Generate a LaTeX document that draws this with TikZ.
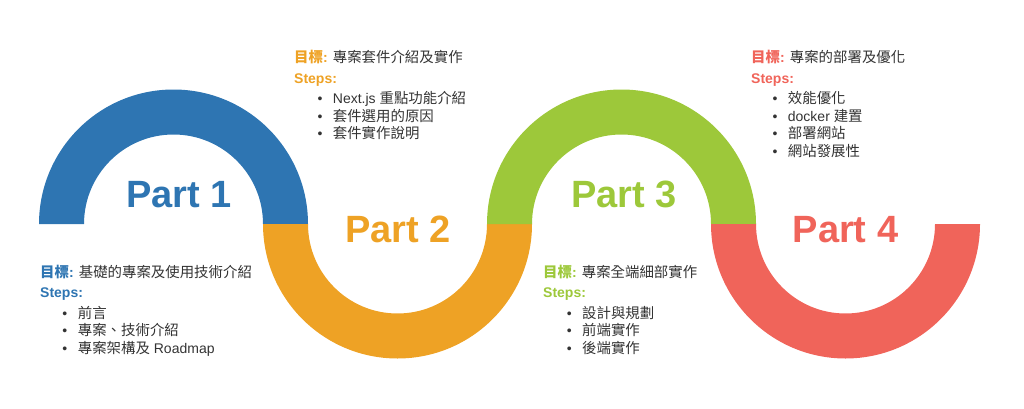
\documentclass[tikz,border=0pt]{standalone}
\usepackage{fontspec}
\setmainfont{Liberation Sans}
\newfontfamily\cjkfont[Scale=1.03]{Noto Sans CJK TC}
\newcommand\zhtxt[1]{{\cjkfont #1}}
\definecolor{pblue}{HTML}{2E75B2}
\definecolor{porange}{HTML}{EEA225}
\definecolor{pgreen}{HTML}{9DC83A}
\definecolor{pred}{HTML}{F0645A}
\definecolor{txtgray}{HTML}{333333}
\begin{document}
\begin{tikzpicture}[x=1pt,y=1pt,
  partlbl/.style={font=\fontsize{38}{40}\selectfont\bfseries, anchor=base, inner sep=0},
  txtline/.style={font=\fontsize{14}{16}\selectfont, text=txtgray, anchor=base west, inner sep=0},
  stepsline/.style={txtline, font=\fontsize{14}{16}\selectfont\bfseries},
  itemline/.style={txtline, execute at begin node={\llap{\textbullet\hspace{10.5pt}}}},
  topring/.style={},
]
\useasboundingbox (0,0) rectangle (1024,408);
% rings
\fill[pblue] (39,184) arc[start angle=180,end angle=0,radius=134.5] -- (263,184) arc[start angle=0,end angle=180,radius=89.5] -- cycle;
\fill[porange] (263,184) arc[start angle=180,end angle=360,radius=134.5] -- (487,184) arc[start angle=0,end angle=-180,radius=89.5] -- cycle;
\fill[pgreen] (487,184) arc[start angle=180,end angle=0,radius=134.5] -- (711,184) arc[start angle=0,end angle=180,radius=89.5] -- cycle;
\fill[pred] (711,184) arc[start angle=180,end angle=360,radius=134.5] -- (935,184) arc[start angle=0,end angle=-180,radius=89.5] -- cycle;
% part labels
\node[partlbl, text=pblue] (p1) at (179,201) {Part 1};
\node[partlbl, text=porange] (p2) at (398,166) {Part 2};
\node[partlbl, text=pgreen] (p3) at (624,201) {Part 3};
\node[partlbl, text=pred] (p4) at (845.5,166) {Part 4};
% block 1
\node[txtline] (g1) at (40,131) {\textcolor{pblue}{\bfseries\zhtxt{目標}:} \zhtxt{基礎的專案及使用技術介紹}};
\node[stepsline, text=pblue] (s1) at (40,110.5) {Steps:};
\node[itemline] (i11) at (77.7,90) {\zhtxt{前言}};
\node[itemline] (i12) at (77.7,72.5) {\zhtxt{專案、技術介紹}};
\node[itemline] (i13) at (77.7,55) {\zhtxt{專案架構及} Roadmap};
% block 2
\node[txtline] (g2) at (294,345) {\textcolor{porange}{\bfseries\zhtxt{目標}:} \zhtxt{專案套件介紹及實作}};
\node[stepsline, text=porange] (s2) at (294,325) {Steps:};
\node[itemline] (i21) at (332.7,304.5) {Next.js \zhtxt{重點功能介紹}};
\node[itemline] (i22) at (332.7,287) {\zhtxt{套件選用的原因}};
\node[itemline] (i23) at (332.7,269.5) {\zhtxt{套件實作說明}};
% block 3
\node[txtline] (g3) at (543,131) {\textcolor{pgreen}{\bfseries\zhtxt{目標}:} \zhtxt{專案全端細部實作}};
\node[stepsline, text=pgreen] (s3) at (543,110.5) {Steps:};
\node[itemline] (i31) at (582,90) {\zhtxt{設計與規劃}};
\node[itemline] (i32) at (582,72.5) {\zhtxt{前端實作}};
\node[itemline] (i33) at (582,55) {\zhtxt{後端實作}};
% block 4
\node[txtline] (g4) at (751,345) {\textcolor{pred}{\bfseries\zhtxt{目標}:} \zhtxt{專案的部署及優化}};
\node[stepsline, text=pred] (s4) at (751,325) {Steps:};
\node[itemline] (i41) at (787.7,304.5) {\zhtxt{效能優化}};
\node[itemline] (i42) at (787.7,287) {docker \zhtxt{建置}};
\node[itemline] (i43) at (787.7,269.5) {\zhtxt{部署網站}};
\node[itemline] (i44) at (787.7,252) {\zhtxt{網站發展性}};
\end{tikzpicture}
\end{document}
